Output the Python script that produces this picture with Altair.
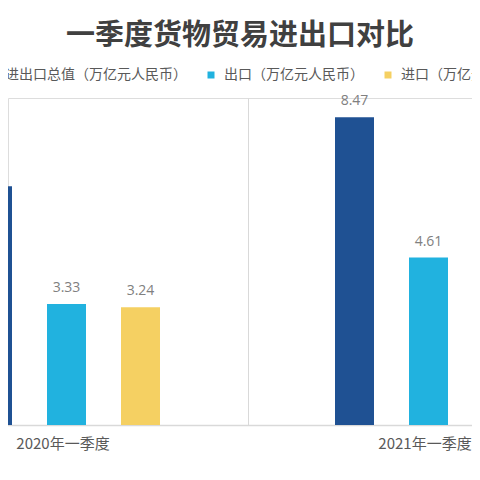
import altair as alt
import pandas as pd

categories = ["2020年一季度", "2021年一季度"]
series = ["货物贸易进出口总值（万亿元人民币）", "出口（万亿元人民币）", "进口（万亿元人民币）"]
total_vals = [6.57, 8.47]
export_vals = [3.33, 4.61]
import_vals = [3.24, 3.86]
colors = ["#1F5193", "#21B2DF", "#F5D062"]

rows = []
for i, c in enumerate(categories):
    for s, vals in zip(series, [total_vals, export_vals, import_vals]):
        rows.append({"季度": c, "系列": s, "值": vals[i]})
df = pd.DataFrame(rows)

cjk = "Noto Sans CJK SC"

x = alt.X(
    "季度:N",
    sort=categories,
    title=None,
    scale=alt.Scale(range=[-122.5, 601.5], paddingInner=0, paddingOuter=0),
    axis=alt.Axis(
        labelAngle=0, ticks=False, grid=True, tickBand="extent",
        gridColor="#D9D9D9", domainColor="#D9D9D9", domainWidth=1.5,
        labelFont=cjk, labelFontSize=15, labelColor="#595959", labelPadding=11,
        labelOffset=-4,
    ),
)
xo = alt.XOffset("系列:N", sort=series,
                 scale=alt.Scale(range=[70, 292], paddingInner=0.473, paddingOuter=0.2365))
y = alt.Y("值:Q", scale=alt.Scale(domain=[0, 9]), axis=None)

bars = alt.Chart(df).mark_bar(clip=True).encode(
    x=x, xOffset=xo, y=y,
    color=alt.Color(
        "系列:N", sort=series,
        scale=alt.Scale(domain=series, range=colors),
        legend=alt.Legend(
            title=None, orient="none", direction="horizontal",
            legendX=-79, legendY=-30,
            symbolType="square", symbolSize=49, symbolStrokeWidth=0,
            labelFont=cjk, labelFontSize=14, labelColor="#595959",
            labelLimit=400, labelOffset=6, columnPadding=17,
        ),
    ),
)

labels = alt.Chart(df).mark_text(
    dy=-12, baseline="alphabetic", fontSize=14, color="#808080", font="Open Sans"
).encode(x=x, xOffset=xo, y=y, text=alt.Text("值:Q", format=".2f"))

chart = alt.layer(bars, labels).properties(
    width=464, height=327,
    title=alt.Title(
        "一季度货物贸易进出口对比", font=cjk, fontSize=29, fontWeight="bold",
        color="#404040", anchor="middle", offset=17,
    ),
    autosize=alt.AutoSizeParams(type="none"),
    padding={"top": 90, "left": 0, "right": 0, "bottom": 40},
).configure_view(stroke=None).configure(background="white")

chart.save("out.html", embed_options={"renderer": "svg", "actions": False})
